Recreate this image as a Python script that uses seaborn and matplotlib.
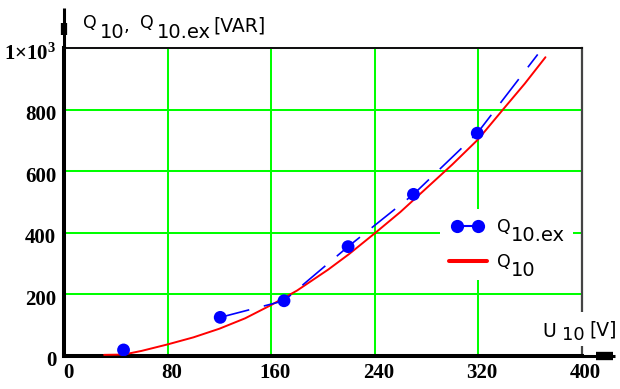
import numpy as np
import pandas as pd
import matplotlib
matplotlib.use("Agg")
import matplotlib.pyplot as plt
import matplotlib.transforms as mtransforms
from matplotlib.lines import Line2D
from matplotlib.patches import Rectangle
from matplotlib.legend_handler import HandlerLine2D
import seaborn as sns

# ---- data ----
u_ex = [46, 120.7, 170, 219.5, 270, 319.3]          # measured U10 [V]
q_ex = [19, 125, 179, 355, 525, 724]                # measured Q10.ex [VAR]
u_ex_extra = [366]                                  # extension of dashed trace
q_ex_extra = [980]
u_calc = [31, 46, 60, 80, 100, 120, 140, 160, 180, 204, 220, 240, 260, 280,
          300, 320, 339, 356, 372]
q_calc = [3, 4, 16, 37, 60, 88, 122, 165, 212, 280, 330, 398, 468, 545,
          622, 704, 800, 885, 971]
x_ticks = [0, 80, 160, 240, 320, 400]
y_ticks = [0, 200, 400, 600, 800, 1000]
y_tick_labels = ["0", "200", "400", "600", "800", r"$\mathbf{1{\times}10^{3}}$"]

df_ex = pd.DataFrame({"U": u_ex, "Q": q_ex})
df_ex_line = pd.DataFrame({"U": u_ex[1:] + u_ex_extra, "Q": q_ex[1:] + q_ex_extra})
df_calc = pd.DataFrame({"U": u_calc, "Q": q_calc})

sns.set_style("white")
plt.rcParams["font.family"] = ["DejaVu Sans"]
plt.rcParams["text.color"] = "black"
plt.rcParams["xtick.color"] = "black"
plt.rcParams["ytick.color"] = "black"
plt.rcParams["lines.scale_dashes"] = False
plt.rcParams["mathtext.fontset"] = "custom"
plt.rcParams["mathtext.bf"] = "Liberation Serif:bold"
plt.rcParams["mathtext.rm"] = "Liberation Serif:bold"

W, H = 620, 389
fig = plt.figure(figsize=(W / 100, H / 100), dpi=100)
L, R, T, B = 64, 581.7, 48.3, 355.8
ax = fig.add_axes([L / W, 1 - B / H, (R - L) / W, (B - T) / H])

ax.set_xlim(0, 400)
ax.set_ylim(0, 1000)

sns.lineplot(data=df_calc, x="U", y="Q", ax=ax, color="#ff0000", lw=1.4,
             estimator=None, sort=False, zorder=3)
sns.lineplot(data=df_ex_line, x="U", y="Q", ax=ax, color="#0000ff", lw=1.2,
             estimator=None, sort=False, zorder=3)
ax.lines[-1].set_dashes((21.6, 10.8))
sns.scatterplot(data=df_ex, x="U", y="Q", ax=ax, color="#0000ff", s=85,
                marker="o", edgecolor="none", zorder=4)

ax.set_xticks(x_ticks)
ax.set_yticks(y_ticks)
ax.set_yticklabels(y_tick_labels)
ax.set_xlabel("")
ax.set_ylabel("")
ax.grid(True, color="#00ff00", lw=1.45)
ax.set_axisbelow(True)
ax.tick_params(length=0, pad=5.5, colors="black")
for lab in ax.get_xticklabels() + ax.get_yticklabels():
    lab.set_fontfamily("Liberation Serif")
    lab.set_fontweight("bold")
    lab.set_fontsize(15)
    lab.set_color("black")
dx = mtransforms.ScaledTranslation(4 / 100, 0, fig.dpi_scale_trans)
for lab in ax.get_xticklabels():
    lab.set_transform(lab.get_transform() + dx)
dy = mtransforms.ScaledTranslation(0, -3 / 100, fig.dpi_scale_trans)
for lab in ax.get_yticklabels():
    lab.set_transform(lab.get_transform() + dy)

for s in ["left", "bottom"]:
    ax.spines[s].set_color("black")
    ax.spines[s].set_linewidth(2.9)
ax.spines["top"].set_color("#111111")
ax.spines["top"].set_linewidth(1.45)
ax.spines["right"].set_color("#444444")
ax.spines["right"].set_linewidth(1.6)

# axis extensions with arrow blobs
def fx(p):
    return p / W
def fy(p):
    return 1 - p / H
fig.add_artist(Line2D([fx(L), fx(L)], [fy(T), fy(8)], color="black", lw=2.2,
                      solid_capstyle="butt"))
fig.add_artist(Line2D([fx(L), fx(L)], [fy(23), fy(35)], color="black", lw=4.5,
                      solid_capstyle="butt"))
fig.add_artist(Line2D([fx(R), fx(615)], [fy(B), fy(B)], color="black", lw=2.2,
                      solid_capstyle="butt"))
fig.add_artist(Line2D([fx(596), fx(613)], [fy(B), fy(B)], color="black", lw=6.0,
                      solid_capstyle="butt"))

# legend
blue_h = Line2D([], [], color="#0000ff", lw=1.5, marker="o", ms=9.5, mec="none")
red_h = Line2D([], [], color="#ff0000", lw=2.9)
leg = ax.legend([blue_h, red_h], ["Q", "Q"],
                handler_map={blue_h: HandlerLine2D(numpoints=2, marker_pad=0.5),
                             red_h: HandlerLine2D(numpoints=1)},
                loc="upper left",
                bbox_to_anchor=(fx(440), 0, (573 - 440) / W, fy(209)),
                bbox_transform=fig.transFigure, mode="expand",
                borderaxespad=0, borderpad=0.5,
                handlelength=2.2, handletextpad=0.57, labelspacing=1.0,
                fontsize=12.5, frameon=True, fancybox=False, framealpha=1,
                facecolor="white", edgecolor="none")
leg.set_zorder(6)
for t in leg.get_texts():
    t.set_color("black")
for t, sub in zip(leg.get_texts(), ["10.ex", "10"]):
    ax.annotate(sub, xy=(1, 0), xycoords=t, xytext=(0.3, -3.5),
                textcoords="offset points", fontsize=14, va="baseline",
                ha="left", annotation_clip=False, zorder=7, color="black")

# axis titles
def ftext(xp, yp, s, size):
    fig.text(fx(xp), fy(yp), s, fontsize=size, va="baseline", ha="left",
             zorder=3, color="black")

ftext(83, 28, "Q", 12.5)
ftext(100, 38, "10", 14)
ftext(124, 31, ",", 13)
ftext(140, 28, "Q", 12.5)
ftext(157, 38, "10.ex", 14)
ftext(213, 32, "[VAR]", 13.5)

fig.add_artist(Rectangle((fx(537), fy(346)), (618 - 537) / W, (346 - 312) / H,
                         transform=fig.transFigure, facecolor="white",
                         edgecolor="none", zorder=2))
ftext(542, 337, "U", 13.5)
ftext(562, 340, "10", 13)
ftext(589, 335, "[V]", 13.5)

fig.savefig("out.png", dpi=100)
